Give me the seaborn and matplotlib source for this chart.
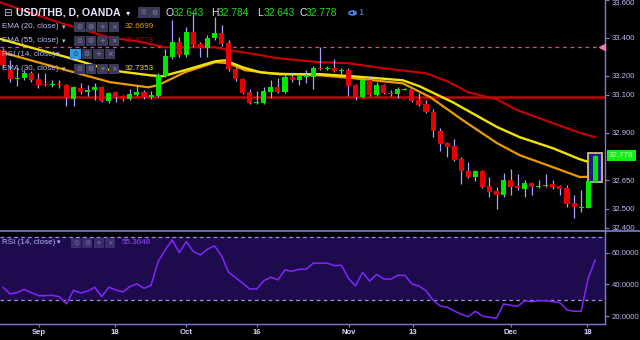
import numpy as np
import matplotlib
matplotlib.use("Agg")
import matplotlib.pyplot as plt
import seaborn as sns
from matplotlib.patches import Rectangle, Circle
from matplotlib.lines import Line2D

# ---------------- data ----------------
opens = [33.335, 33.230, 33.185, 33.188, 33.214, 33.182, 33.156, 33.151, 33.156, 33.151,
         33.077, 33.135, 33.114, 33.124, 33.140, 33.067, 33.114, 33.093, 33.077, 33.098,
         33.114, 33.088, 33.093, 33.198, 33.298, 33.377, 33.309, 33.430, 33.367, 33.345,
         33.398, 33.424, 33.372, 33.235, 33.182, 33.114, 33.056, 33.056, 33.114, 33.140,
         33.114, 33.193, 33.177, 33.193, 33.193, 33.243, 33.238, 33.240, 33.224, 33.230,
         33.151, 33.088, 33.177, 33.098, 33.151, 33.109, 33.103, 33.127, 33.130, 33.072,
         33.051, 33.009, 32.909, 32.845, 32.830, 32.761, 32.698, 32.667, 32.698, 32.619,
         32.593, 32.572, 32.651, 32.619, 32.603, 32.635, 32.614, 32.619, 32.630, 32.619,
         32.609, 32.530, 32.503, 32.503, 32.643]
highs = [33.345, 33.282, 33.240, 33.230, 33.224, 33.214, 33.214, 33.177, 33.177, 33.156,
         33.145, 33.161, 33.151, 33.161, 33.145, 33.114, 33.119, 33.098, 33.130, 33.151,
         33.124, 33.119, 33.214, 33.340, 33.493, 33.403, 33.456, 33.530, 33.377, 33.414,
         33.508, 33.467, 33.388, 33.245, 33.188, 33.130, 33.119, 33.140, 33.177, 33.188,
         33.209, 33.214, 33.203, 33.230, 33.251, 33.351, 33.251, 33.288, 33.240, 33.240,
         33.156, 33.193, 33.198, 33.167, 33.156, 33.124, 33.140, 33.135, 33.140, 33.109,
         33.072, 33.024, 32.924, 32.851, 32.866, 32.772, 32.745, 32.703, 32.703, 32.667,
         32.614, 32.688, 32.709, 32.682, 32.651, 32.640, 32.651, 32.682, 32.651, 32.624,
         32.624, 32.572, 32.598, 32.645, 32.784]
lows = [33.245, 33.167, 33.145, 33.177, 33.167, 33.135, 33.145, 33.140, 33.135, 33.040,
        33.040, 33.103, 33.093, 33.072, 33.061, 33.056, 33.061, 33.067, 33.072, 33.093,
        33.077, 33.077, 33.088, 33.193, 33.288, 33.298, 33.298, 33.351, 33.298, 33.298,
        33.388, 33.356, 33.224, 33.172, 33.103, 33.051, 33.051, 33.051, 33.082, 33.109,
        33.109, 33.167, 33.151, 33.161, 33.130, 33.230, 33.230, 33.219, 33.209, 33.093,
        33.072, 33.082, 33.093, 33.093, 33.103, 33.093, 33.082, 33.124, 33.061, 33.040,
        33.003, 32.877, 32.803, 32.772, 32.751, 32.630, 32.661, 32.645, 32.609, 32.561,
        32.498, 32.561, 32.572, 32.598, 32.561, 32.572, 32.609, 32.614, 32.603, 32.572,
        32.509, 32.451, 32.482, 32.503, 32.643]
closes = [33.256, 33.182, 33.190, 33.214, 33.177, 33.151, 33.151, 33.156, 33.151, 33.082,
          33.140, 33.114, 33.124, 33.140, 33.067, 33.109, 33.088, 33.077, 33.103, 33.114,
          33.088, 33.098, 33.203, 33.303, 33.377, 33.309, 33.430, 33.361, 33.345, 33.398,
          33.424, 33.367, 33.235, 33.182, 33.109, 33.056, 33.061, 33.119, 33.140, 33.114,
          33.193, 33.177, 33.198, 33.203, 33.240, 33.235, 33.240, 33.224, 33.230, 33.145,
          33.088, 33.177, 33.098, 33.151, 33.109, 33.103, 33.130, 33.130, 33.067, 33.045,
          33.009, 32.909, 32.840, 32.824, 32.756, 32.698, 32.667, 32.698, 32.614, 32.587,
          32.572, 32.651, 32.614, 32.609, 32.635, 32.614, 32.622, 32.627, 32.614, 32.603,
          32.524, 32.509, 32.509, 32.645, 32.778]

rsi = [38.2, 34.0, 34.8, 36.9, 34.8, 32.9, 32.9, 33.1, 32.3, 27.7,
       36.3, 34.6, 35.7, 38.2, 32.3, 38.2, 36.5, 35.2, 38.6, 40.3,
       37.5, 39.4, 54.3, 61.6, 67.9, 59.9, 66.9, 60.6, 58.5, 62.1,
       64.2, 57.9, 47.6, 44.2, 40.7, 37.1, 37.1, 42.3, 44.5, 42.8,
       49.1, 48.2, 49.5, 49.5, 53.3, 53.3, 53.3, 51.8, 52.0, 43.8,
       39.0, 47.6, 42.1, 46.3, 43.4, 43.2, 45.7, 45.7, 40.3, 39.0,
       36.0, 30.2, 26.4, 25.6, 23.3, 21.2, 19.7, 23.1, 20.1, 19.3,
       18.7, 27.7, 26.9, 26.2, 29.7, 29.1, 29.7, 29.7, 29.1, 28.5,
       23.9, 23.1, 23.1, 43.8, 55.3648]

ema55_idx = [-0.4, 7, 15, 19, 23, 30, 33, 35, 39, 45, 49, 54, 60, 63, 66, 70, 73, 78, 82, 84]
ema55 = [33.588, 33.493, 33.403, 33.383, 33.351, 33.351, 33.330, 33.319, 33.293, 33.272,
         33.267, 33.240, 33.214, 33.172, 33.114, 33.077, 33.019, 32.951, 32.898, 32.8778]
ema30_idx = [-0.4, 3.8, 9.1, 15.2, 20.9, 22.6, 25.8, 30.1, 31.5, 34, 36.5, 39.3, 45, 49.6,
             56.7, 59.1, 63.8, 70.1, 73.3, 78, 81.8, 84]
ema30 = [33.395, 33.351, 33.298, 33.230, 33.203, 33.198, 33.230, 33.277, 33.282, 33.245,
         33.219, 33.209, 33.209, 33.198, 33.177, 33.145, 33.061, 32.930, 32.877, 32.819,
         32.761, 32.7353]
ema20_idx = [-0.4, 9, 15.2, 20.6, 22, 25.8, 30.1, 32, 34.3, 37.9, 45, 49.6, 56.7, 60.6,
             65.2, 70.1, 73.3, 78, 81.8, 84]
ema20 = [33.327, 33.230, 33.167, 33.140, 33.151, 33.219, 33.272, 33.267, 33.230, 33.214,
         33.203, 33.188, 33.161, 33.088, 32.967, 32.845, 32.782, 32.719, 32.667, 32.6699]

hline_level = 33.088
alert_level = 33.351

date_pos = [5.07, 15.9, 25.96, 35.98, 49.1, 58.2, 72.0, 82.9]
date_labels = ["Sep", "18", "Oct", "16", "Nov", "13", "Dec", "18"]
price_ticks = [32.4, 32.5, 32.65, 32.9, 33.1, 33.2, 33.4, 33.6]
rsi_ticks = [20, 40, 60]

title_text = "USD/THB, D, OANDA"
ohlc_letters = ["O", "H", "L", "C"]
ohlc_values = ["32.643", "32.784", "32.643", "32.778"]
legend_rows = [("EMA (20, close)", "32.6699", "#e9a300"),
               ("EMA (55, close)", "32.8778", "#b00000"),
               ("RSI (14, close)", None, None),
               ("EMA (30, close)", "32.7353", "#e6e600")]
rsi_value_text = "55.3648"

# ---------------- style ----------------
sns.set_theme(style="dark", rc={"axes.facecolor": "black", "figure.facecolor": "black",
                                "axes.grid": False})
plt.rcParams['font.family'] = ['Liberation Sans', 'DejaVu Sans']

W, H = 640, 340
fig = plt.figure(figsize=(6.4, 3.4), dpi=100)
fig.patch.set_facecolor("black")

AX_R = 605 / W
ax1 = fig.add_axes([0, 1 - 231.5 / H, AX_R, 231.5 / H])
ax2 = fig.add_axes([0, 1 - 324.3 / H, AX_R, (324.3 - 231.7) / H])
for ax in (ax1, ax2):
    ax.set_facecolor("black")
    ax.set_xlim(-0.426, 85.39)
    for s in ("top", "left", "bottom", "right"):
        ax.spines[s].set_visible(False)
    ax.spines["right"].set_visible(True)
    ax.spines["right"].set_color("#7c7cd8")
    ax.spines["right"].set_linewidth(1.0)

AXC = "#7c7cd8"
TXT = "#b9b9f2"

# ---------------- price pane ----------------
ax1.set_ylim(32.380, 33.5984)
idx = np.arange(len(opens))
o = np.array(opens); c = np.array(closes); h = np.array(highs); l = np.array(lows)
up = c >= o

ax1.axhline(hline_level, color="#c40000", lw=1.8, zorder=2)
ax1.plot([-0.426, 84.6], [alert_level, alert_level], color="#d4507c", lw=0.9,
         ls=(0, (3, 3)), zorder=2)
ax1.plot([85.0], [alert_level], marker="<", color="#f07aa8", ms=5, clip_on=False, zorder=6)

sns.lineplot(x=ema55_idx, y=ema55, ax=ax1, color="#cc0000", lw=1.5, zorder=3, sort=False)
sns.lineplot(x=ema20_idx, y=ema20, ax=ax1, color="#ec9a00", lw=1.6, zorder=3, sort=False)
sns.lineplot(x=ema30_idx, y=ema30, ax=ax1, color="#f2e400", lw=1.7, zorder=3, sort=False)

# highlight box around the last candle
ax1.add_patch(Rectangle((idx[-1] - 1.03, l[-1] - 0.002), 2.06, h[-1] - l[-1] + 0.013,
                        facecolor="#1a1a8e", edgecolor="#d6b88a", lw=1.3, zorder=4))

ax1.vlines(idx, l, h, color="#a6a6ff", lw=0.9, zorder=5)
body_lo = np.minimum(o, c)
body_h = np.maximum(np.abs(c - o), 0.005)
ax1.bar(idx, body_h, bottom=body_lo, width=0.72,
        color=np.where(up, "#00e600", "#e60000"), linewidth=0, zorder=6)

ax1.yaxis.tick_right()
ax1.set_yticks(price_ticks)
ax1.set_yticklabels([f"{v:.3f}" for v in price_ticks])
ax1.tick_params(axis="y", colors=AXC, labelcolor=TXT, labelsize=5.6, length=3,
                width=0.8, pad=2, right=True, left=False)
for t, v in zip(ax1.get_yticklabels(), price_ticks):
    if v == max(price_ticks):
        t.set_va("top")   # keep the top label inside the picture
ax1.set_xticks([])

# last price label
ax1.annotate("32.778", xy=(1.0, closes[-1]), xycoords=("axes fraction", "data"),
             xytext=(3, 0), textcoords="offset points", va="center", ha="left",
             fontsize=5.8, color="#b4ffb4", annotation_clip=False, zorder=10,
             bbox=dict(boxstyle="square,pad=0.25", fc="#14ee14", ec="none"))

# ---------------- RSI pane ----------------
ax2.set_ylim(14.9, 73.1)
ax2.axhspan(30, 70, color="#1e0b4e", zorder=0, lw=0)
ax2.axhline(70, color="#9b8df0", lw=0.9, ls=(0, (3, 2.5)), zorder=1)
ax2.axhline(30, color="#9b8df0", lw=0.9, ls=(0, (3, 2.5)), zorder=1)
sns.lineplot(x=idx, y=rsi, ax=ax2, color="#8424ff", lw=1.1, zorder=3)
ax2.yaxis.tick_right()
ax2.set_yticks(rsi_ticks)
ax2.set_yticklabels([f"{v:.4f}" for v in rsi_ticks])
ax2.tick_params(axis="y", colors=AXC, labelcolor=TXT, labelsize=5.6, length=3,
                width=0.8, pad=2, right=True, left=False)
ax2.spines["bottom"].set_visible(True)
ax2.spines["bottom"].set_color(AXC)
ax2.spines["bottom"].set_linewidth(1.0)
ax2.set_xticks(date_pos)
ax2.set_xticklabels(date_labels)
ax2.tick_params(axis="x", colors=AXC, labelcolor="#d4d4ff", labelsize=5.6, length=2,
                width=0.8, pad=1.5, bottom=True)
for t in ax2.get_xticklabels():
    t.set_fontweight("bold")
ax2.set_xlabel(""); ax2.set_ylabel("")
ax1.set_xlabel(""); ax1.set_ylabel("")

# separator between panes (full width)
fig.add_artist(Line2D([0, 1], [1 - 231.4 / H] * 2, color=AXC, lw=1.2,
                      transform=fig.transFigure))

# ---------------- header / legend texts ----------------
def ftext(x, y, s, **kw):
    return fig.text(x / W, 1 - y / H, s, va="center", ha="left", **kw)

def fbox(x, y, w, hgt, fc, glyph, gc="#8a8aa8"):
    fig.add_artist(Rectangle((x / W, 1 - (y + hgt) / H), w / W, hgt / H,
                             transform=fig.transFigure, fc=fc, ec="none", zorder=8))
    fig.text((x + w / 2) / W, 1 - (y + hgt / 2) / H, glyph, ha="center", va="center",
             fontsize=5, color=gc, zorder=9, family=["DejaVu Sans"])

ftext(3, 12.5, "⊟", fontsize=7.5, color=TXT, family=["DejaVu Sans"])
ftext(16, 12.5, title_text, fontsize=7.6, color="#e6e6ff", fontweight="bold")
ftext(126, 12.5, "▾", fontsize=6, color="#e6e6ff", family=["DejaVu Sans"])
fbox(138, 7, 10.5, 11, "#3a3a58", "⊙")
fbox(149, 7, 10.5, 11, "#3a3a58", "⚙")
ohlc_x = [166, 211, 257, 299]
for xl, let, val in zip(ohlc_x, ohlc_letters, ohlc_values):
    ftext(xl, 12.5, let, fontsize=7.4, color="#e6e6ff")
    ftext(xl + 7, 12.5, val, fontsize=7.4, color="#22dd22")
# alarm-clock symbol (no installed font has the glyph): drawn as a small clock shape
fig.add_artist(Circle((352.5 / W, 1 - 13 / H), 3.6 / W, transform=fig.transFigure,
                      fc="none", ec="#4a8cff", lw=1.1))
fig.add_artist(Line2D([352.5 / W, 352.5 / W, 354.5 / W], [1 - 10.5 / H, 1 - 13 / H, 1 - 13 / H],
                      transform=fig.transFigure, color="#4a8cff", lw=0.9))
ftext(358, 12.5, "1", fontsize=6.8, color="#4a8cff")

row_y = [27, 41, 54, 69]
glyphs = ["⊙", "⚙", "+", "×"]
for (lab, val, col), yy in zip(legend_rows, row_y):
    ftext(2, yy, lab, fontsize=5.8, color=TXT)
    if val is None:
        ftext(56, yy, "▾", fontsize=5, color=TXT, family=["DejaVu Sans"])
        bx = [70, 81.5, 93, 104.5]
        for k, (x0, g) in enumerate(zip(bx, glyphs)):
            fbox(x0, yy - 5, 10.5, 10, "#3399dd" if k == 0 else "#3a3a58", g,
                 gc="#1a3a6a" if k == 0 else "#8a8aa8")
    else:
        ftext(62, yy, "▾", fontsize=5, color=TXT, family=["DejaVu Sans"])
        bx = [74, 85.5, 97, 108.5]
        for x0, g in zip(bx, glyphs):
            fbox(x0, yy - 5, 10.5, 10, "#3a3a58", g)
        ftext(125, yy, val, fontsize=5.8, color=col)

# RSI pane legend
ftext(2, 242.5, "RSI (14, close)", fontsize=5.8, color=TXT)
ftext(57, 242.5, "▾", fontsize=5, color=TXT, family=["DejaVu Sans"])
for x0, g in zip([71, 82, 93.5, 105], glyphs):
    fbox(x0, 238, 10, 9.5, "#3b2d6a", g, gc="#7d70b0")
ftext(122, 242.5, rsi_value_text, fontsize=5.8, color="#9450ff")

fig.savefig("out.png", dpi=100, facecolor="black")
